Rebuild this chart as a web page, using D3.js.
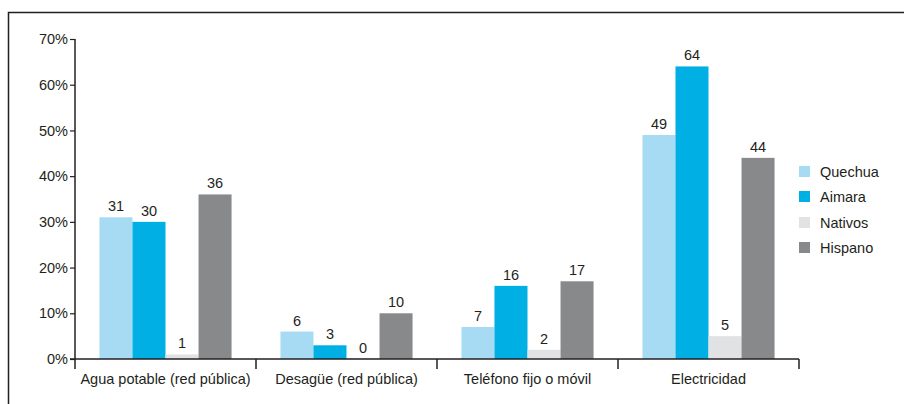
<!DOCTYPE html>
<html lang="es">
<head>
<meta charset="utf-8">
<script src="https://d3js.org/d3.v7.min.js"></script>
<style>
  body { margin: 0; background: #fff; }
  text { font-family: "Liberation Sans", Arial, sans-serif; fill: #231f20; }
</style>
</head>
<body>
<script>
// datos
var categories = ["Agua potable (red pública)", "Desagüe (red pública)", "Teléfono fijo o móvil", "Electricidad"];
var seriesNames = ["Quechua", "Aimara", "Nativos", "Hispano"];
var quechua = [31, 6, 7, 49];
var aimara = [30, 3, 16, 64];
var nativos = [1, 0, 2, 5];
var hispano = [36, 10, 17, 44];
var yTicks = [0, 10, 20, 30, 40, 50, 60, 70];
var colors = ["#a6dbf3", "#00b0e4", "#e1e2e3", "#88898b"];

var series = [quechua, aimara, nativos, hispano];

var width = 904, height = 404;
var svg = d3.select("body").append("svg")
    .attr("width", width).attr("height", height);

// marco
svg.append("path")
    .attr("d", "M8.5,404 V12.5 H904")
    .attr("fill", "none").attr("stroke", "#231f20").attr("stroke-width", 1.5);

var x0 = 75, x1 = 799, yBase = 359, yTop = 39;

var x = d3.scaleBand().domain(categories).range([x0, x1]).paddingInner(0).paddingOuter(0);
var xs = d3.scaleBand().domain(seriesNames).range([0, x.bandwidth()]).paddingOuter(0.74).paddingInner(0);
var y = d3.scaleLinear().domain([0, 70]).range([yBase, yTop]);

// barras
var g = svg.append("g");
categories.forEach(function(c, i) {
  seriesNames.forEach(function(s, j) {
    var v = series[j][i];
    var h = Math.max(yBase - y(v), 1);
    g.append("rect")
        .attr("x", x(c) + xs(s))
        .attr("y", yBase - h)
        .attr("width", xs.bandwidth())
        .attr("height", h)
        .attr("fill", colors[j]);
    g.append("text")
        .attr("x", x(c) + xs(s) + xs.bandwidth() / 2)
        .attr("y", y(v) - 6)
        .attr("text-anchor", "middle")
        .attr("font-size", 14.5)
        .text(v);
  });
});

// eje y
var yAxis = svg.append("g")
    .attr("transform", "translate(" + x0 + ",0)")
    .call(d3.axisLeft(y).tickValues(yTicks).tickSize(5).tickPadding(2)
      .tickFormat(function(d) { return d + "%"; }));
yAxis.select(".domain").attr("stroke", "#231f20").attr("stroke-width", 1.5)
    .attr("d", "M0," + yTop + "V" + yBase);
yAxis.selectAll(".tick line").attr("stroke", "#231f20").attr("stroke-width", 1.2);
yAxis.selectAll(".tick text").attr("font-size", 14.5).attr("font-family", null).attr("fill", "#231f20");

// eje x
var xAxis = svg.append("g").attr("transform", "translate(0," + yBase + ")");
xAxis.append("line").attr("x1", x0 - 5).attr("x2", x1)
    .attr("stroke", "#231f20").attr("stroke-width", 1.5);
var bounds = categories.map(function(c) { return x(c); }).concat([x1]);
xAxis.selectAll(".sep").data(bounds).enter().append("line")
    .attr("x1", function(d) { return d; }).attr("x2", function(d) { return d; })
    .attr("y1", 0).attr("y2", 10)
    .attr("stroke", "#231f20").attr("stroke-width", 1.5);
xAxis.selectAll(".lab").data(categories).enter().append("text")
    .attr("x", function(d) { return x(d) + x.bandwidth() / 2; })
    .attr("y", 25)
    .attr("text-anchor", "middle")
    .attr("font-size", 14.5)
    .text(function(d) { return d; });

// leyenda
var legY = [172, 197, 223, 248];
var leg = svg.append("g");
seriesNames.forEach(function(s, j) {
  leg.append("rect").attr("x", 799).attr("y", legY[j] - 6).attr("width", 11).attr("height", 11)
      .attr("fill", colors[j]);
  leg.append("text").attr("x", 820).attr("y", legY[j] + 5)
      .attr("font-size", 14.5).text(s);
});
</script>
</body>
</html>
